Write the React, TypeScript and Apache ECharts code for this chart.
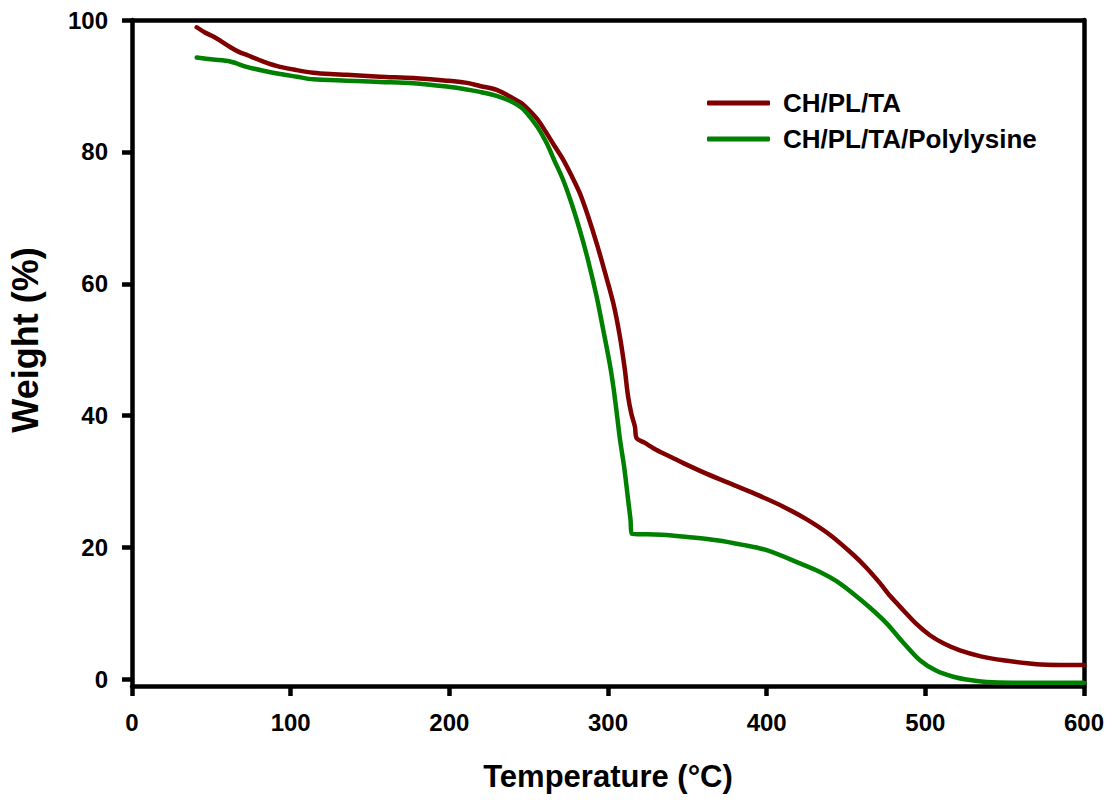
import React, { useEffect, useRef } from "react";
import * as echarts from "echarts";

const seriesNames = ["CH/PL/TA", "CH/PL/TA/Polylysine"];
const seriesColors = ["#7f0000", "#008000"];

const chplta: [number, number][] = [
  [40.8, 98.9], [46, 98.1], [51.2, 97.5], [56, 96.8], [61.8, 95.9], [67, 95.2],
  [72.3, 94.7], [82.8, 93.7], [93.3, 92.9], [103.8, 92.4], [114.3, 92.0],
  [125, 91.8], [135.3, 91.7], [156.3, 91.4], [177.3, 91.2], [198.3, 90.8],
  [210, 90.5], [219.3, 90.0], [229.8, 89.4], [240.3, 88.1], [246, 87.3],
  [250.8, 86.2], [256, 84.8], [261.4, 82.8], [266, 81.0], [271.8, 78.8],
  [277, 76.4], [282.3, 73.7], [287.5, 70.2], [292.9, 66.1], [298, 61.8],
  [303.4, 57.0], [307.5, 52.0], [310.5, 47.2], [312.6, 43.0], [314.8, 40.2],
  [317, 38.3], [318, 36.6], [323, 35.9], [330.6, 34.8], [340, 33.7],
  [347.5, 32.8], [362, 31.2], [379, 29.5], [395, 27.9], [410.5, 26.2],
  [425, 24.3], [440, 21.9], [454.6, 18.9], [463, 16.9], [471.4, 14.6],
  [478, 12.6], [486.1, 10.5], [494, 8.5], [502.9, 6.7], [512, 5.4],
  [521.8, 4.4], [535, 3.5], [549.1, 2.9], [570.2, 2.3], [585, 2.2], [600, 2.2],
];

const chpltaPolylysine: [number, number][] = [
  [40.8, 94.3], [51.2, 94.0], [61.8, 93.7], [72.3, 92.9], [82.8, 92.3],
  [93.3, 91.8], [103.8, 91.4], [114.3, 91.0], [135.3, 90.8], [156.3, 90.6],
  [177.3, 90.4], [198.3, 89.9], [210, 89.5], [219.3, 89.1], [229.8, 88.5],
  [240.3, 87.5], [246, 86.6], [250.8, 85.3], [256, 83.6], [261.4, 81.3],
  [266, 78.8], [271.8, 75.7], [277, 72.2], [282.3, 68.1], [287.5, 63.5],
  [292.9, 58.0], [297, 53.0], [301.3, 47.6], [303.6, 44.0], [305.6, 40.2],
  [307.6, 36.3], [310.2, 32.2], [312.6, 27.4], [314.2, 24.2], [315, 22.1],
  [325, 22.0], [336.9, 21.9], [350, 21.6], [368.5, 21.1], [385, 20.4],
  [400, 19.6], [421, 17.6], [433.6, 16.3], [444, 14.9], [454.6, 13.0],
  [465, 10.9], [475.6, 8.5], [486, 5.6], [496.6, 2.9], [507, 1.3],
  [517.6, 0.4], [528, -0.1], [538.6, -0.4], [555, -0.5], [570.2, -0.5], [600, -0.5],
];

const xTicks = [0, 100, 200, 300, 400, 500, 600];
const yTicks = [0, 20, 40, 60, 80, 100];
const xTitle = "Temperature (°C)";
const yTitle = "Weight (%)";

const FONT = "'Liberation Sans', Arial, sans-serif";

export default function App() {
  const ref = useRef<HTMLDivElement>(null);
  useEffect(() => {
    document.body.style.margin = "0";
    const chart = echarts.init(ref.current!, null, { renderer: "svg" });
    const axisLine = { show: true, onZero: false, lineStyle: { color: "#000", width: 4.5 } };
    chart.setOption({
      animation: false,
      backgroundColor: "#fff",
      grid: { left: 132, right: 28, top: 20, bottom: 114 },
      legend: {
        orient: "vertical",
        left: 707,
        top: 90,
        padding: 0,
        itemGap: 10,
        itemWidth: 63,
        itemHeight: 5,
        icon: "roundRect",
        data: seriesNames,
        textStyle: {
          fontFamily: FONT,
          fontWeight: "bold",
          fontSize: 26,
          color: "#000",
          padding: [0, 0, 0, 8],
        },
      },
      graphic: [
        {
          type: "text",
          x: 25,
          y: 340,
          rotation: Math.PI / 2,
          style: {
            text: yTitle,
            fontFamily: FONT,
            fontWeight: "bold",
            fontSize: 36,
            fill: "#000",
            align: "center",
            verticalAlign: "middle",
          },
        },
      ],
      xAxis: [
        {
          type: "value",
          min: 0,
          max: 600,
          interval: 100,
          axisLine,
          axisTick: { show: true, inside: false, length: 10, lineStyle: { color: "#000", width: 4.5 } },
          axisLabel: {
            margin: 24,
            fontFamily: FONT,
            fontWeight: "bold",
            fontSize: 24,
            color: "#000",
            customValues: xTicks,
          },
          splitLine: { show: false },
          name: xTitle,
          nameLocation: "middle",
          nameGap: 75,
          nameTextStyle: { fontFamily: FONT, fontWeight: "bold", fontSize: 31, color: "#000" },
        },
        {
          type: "value",
          position: "top",
          min: 0,
          max: 600,
          axisLine,
          axisTick: { show: false },
          axisLabel: { show: false },
          splitLine: { show: false },
        },
      ],
      yAxis: [
        {
          type: "value",
          min: -1,
          max: 100,
          axisLine,
          axisTick: {
            show: true,
            inside: false,
            length: 10,
            customValues: yTicks,
            lineStyle: { color: "#000", width: 4.5 },
          },
          axisLabel: {
            margin: 24,
            fontFamily: FONT,
            fontWeight: "bold",
            fontSize: 24,
            color: "#000",
            customValues: yTicks,
          },
          splitLine: { show: false },
        },
        {
          type: "value",
          position: "right",
          min: -1,
          max: 100,
          axisLine,
          axisTick: { show: false },
          axisLabel: { show: false },
          splitLine: { show: false },
        },
      ],
      series: [
        {
          name: seriesNames[0],
          type: "line",
          data: chplta,
          showSymbol: false,
          symbol: "none",
          smooth: 0.3,
          color: seriesColors[0],
          lineStyle: { color: seriesColors[0], width: 4.5, cap: "round", join: "round" },
        },
        {
          name: seriesNames[1],
          type: "line",
          data: chpltaPolylysine,
          showSymbol: false,
          symbol: "none",
          smooth: 0.3,
          color: seriesColors[1],
          lineStyle: { color: seriesColors[1], width: 4.5, cap: "round", join: "round" },
        },
      ],
    });
    return () => chart.dispose();
  }, []);
  return (
    <div
      ref={ref}
      style={{ position: "fixed", left: 0, top: 0, width: 1112, height: 800 }}
    />
  );
}
